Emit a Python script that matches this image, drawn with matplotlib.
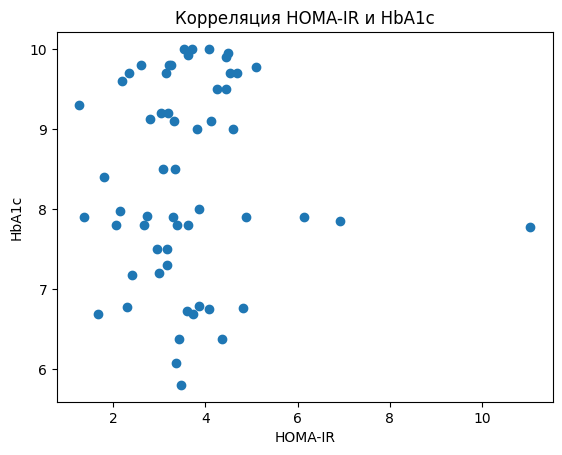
import matplotlib
matplotlib.use("Agg")
import matplotlib.pyplot as plt

# значения
homa_ir = [1.27, 1.81, 2.20, 2.35, 2.61, 2.80, 3.04, 3.20, 3.31, 3.09, 3.35,
           3.15, 3.22, 3.25, 3.53, 3.62, 3.72, 4.07, 4.44, 4.49, 4.54, 4.68,
           5.09, 4.26, 4.45, 3.82, 4.13, 4.60,
           1.37, 2.14, 2.07, 2.74, 2.66, 3.29, 3.39, 3.63, 3.87, 4.89,
           6.13, 6.93, 11.05,
           2.95, 3.16, 3.16, 3.00, 2.42,
           1.68, 2.31, 3.61, 3.74, 3.87, 4.09, 4.82, 3.44, 4.37, 3.37, 3.48]
hba1c = [9.30, 8.40, 9.60, 9.70, 9.80, 9.12, 9.20, 9.20, 9.10, 8.50, 8.50,
         9.70, 9.80, 9.80, 10.0, 9.93, 10.0, 10.0, 9.90, 9.95, 9.70, 9.70,
         9.77, 9.50, 9.50, 9.00, 9.10, 9.00,
         7.90, 7.98, 7.80, 7.91, 7.80, 7.90, 7.80, 7.80, 8.00, 7.90,
         7.90, 7.85, 7.77,
         7.50, 7.50, 7.30, 7.20, 7.18,
         6.69, 6.77, 6.73, 6.69, 6.79, 6.75, 6.76, 6.38, 6.38, 6.08, 5.80]

plt.figure(figsize=(6.4, 4.8))
plt.scatter(homa_ir, hba1c)
plt.title('Корреляция HOMA-IR и HbA1c')
plt.xlabel('HOMA-IR')
plt.ylabel('HbA1c')
plt.savefig('out.png', dpi=100, bbox_inches='tight')
